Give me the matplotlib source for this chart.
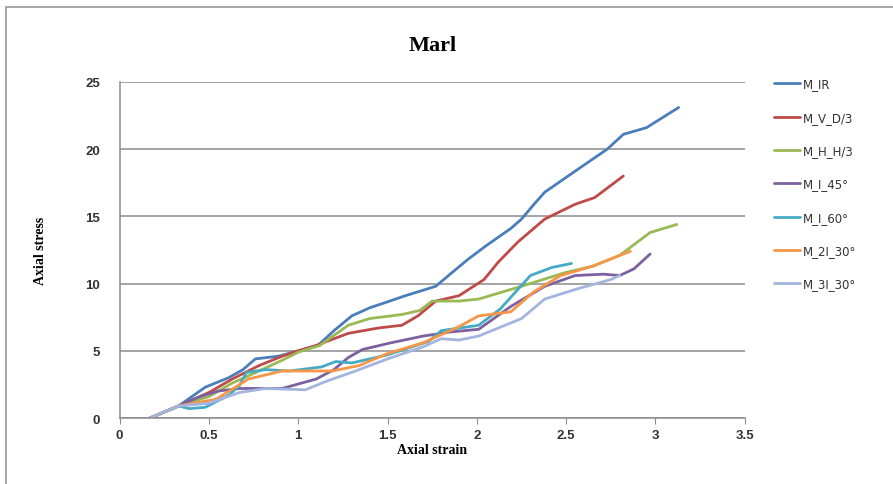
import numpy as np
import matplotlib.pyplot as plt
from matplotlib.patches import Rectangle

# series (axial strain, axial stress)
ir_x = [0.17, 0.33, 0.48, 0.61, 0.69, 0.76, 0.89, 1.0, 1.11, 1.2, 1.3, 1.4, 1.49, 1.6, 1.77, 1.85, 1.95, 2.05, 2.19, 2.25, 2.32, 2.38, 2.5, 2.62, 2.73, 2.82, 2.95, 3.13]
ir_y = [0.0, 0.9, 2.3, 3.0, 3.6, 4.4, 4.6, 5.0, 5.4, 6.5, 7.6, 8.2, 8.6, 9.1, 9.8, 10.7, 11.8, 12.8, 14.1, 14.8, 15.9, 16.8, 17.9, 19.0, 20.0, 21.1, 21.6, 23.1]

vd_x = [0.17, 0.33, 0.5, 0.63, 0.78, 0.91, 1.0, 1.1, 1.28, 1.45, 1.58, 1.67, 1.77, 1.9, 2.04, 2.12, 2.23, 2.38, 2.55, 2.66, 2.82]
vd_y = [0.0, 0.9, 1.9, 2.9, 3.9, 4.6, 5.0, 5.4, 6.3, 6.7, 6.9, 7.6, 8.7, 9.1, 10.3, 11.6, 13.1, 14.8, 15.9, 16.4, 18.0]

hh_x = [0.17, 0.33, 0.5, 0.63, 0.78, 0.91, 1.0, 1.12, 1.28, 1.4, 1.58, 1.68, 1.75, 1.9, 2.01, 2.25, 2.49, 2.65, 2.8, 2.97, 3.12]
hh_y = [0.0, 0.9, 1.6, 2.6, 3.5, 4.3, 4.9, 5.4, 6.9, 7.4, 7.7, 8.0, 8.7, 8.7, 8.85, 9.8, 10.8, 11.3, 12.1, 13.8, 14.4]

i45_x = [0.17, 0.33, 0.45, 0.55, 0.67, 0.8, 0.91, 1.1, 1.2, 1.28, 1.36, 1.52, 1.7, 1.85, 2.01, 2.19, 2.38, 2.55, 2.71, 2.8, 2.88, 2.97]
i45_y = [0.0, 0.9, 1.6, 2.0, 2.2, 2.2, 2.2, 2.9, 3.6, 4.5, 5.1, 5.6, 6.1, 6.4, 6.6, 8.3, 9.8, 10.6, 10.7, 10.6, 11.1, 12.2]

i60_x = [0.17, 0.33, 0.39, 0.48, 0.61, 0.67, 0.71, 0.82, 0.95, 1.13, 1.21, 1.3, 1.5, 1.73, 1.8, 2.01, 2.13, 2.3, 2.42, 2.53]
i60_y = [0.0, 0.9, 0.7, 0.8, 1.7, 2.4, 3.4, 3.6, 3.5, 3.8, 4.2, 4.1, 4.7, 5.7, 6.5, 6.9, 8.1, 10.6, 11.2, 11.5]

i2_x = [0.17, 0.33, 0.54, 0.72, 0.91, 1.05, 1.19, 1.34, 1.5, 1.7, 1.9, 2.01, 2.19, 2.32, 2.47, 2.65, 2.8, 2.86]
i2_y = [0.0, 0.9, 1.4, 2.9, 3.5, 3.5, 3.5, 3.9, 4.8, 5.6, 6.8, 7.6, 7.9, 9.4, 10.6, 11.3, 12.1, 12.4]

i3_x = [0.17, 0.33, 0.5, 0.67, 0.82, 1.04, 1.15, 1.3, 1.5, 1.7, 1.8, 1.9, 2.01, 2.25, 2.38, 2.56, 2.75, 2.8]
i3_y = [0.0, 0.9, 1.1, 1.9, 2.2, 2.1, 2.7, 3.4, 4.4, 5.3, 5.9, 5.8, 6.1, 7.4, 8.85, 9.6, 10.3, 10.6]

labels = ['M_IR', 'M_V_D/3', 'M_H_H/3', 'M_I_45°', 'M_I_60°', 'M_2I_30°', 'M_3I_30°']
colors = ['#4A7EBB', '#BE4B48', '#98B954', '#7D60A0', '#46AAC5', '#F79646', '#A3B5DF']
xs = [ir_x, vd_x, hh_x, i45_x, i60_x, i2_x, i3_x]
ys = [ir_y, vd_y, hh_y, i45_y, i60_y, i2_y, i3_y]

fig = plt.figure(figsize=(8.93, 4.85), dpi=100)
ax = fig.add_axes([0.134, 0.136, 0.700, 0.693])

for x, y, c, lab in zip(xs, ys, colors, labels):
    ax.plot(x, y, color=c, lw=2, label=lab, solid_joinstyle='round', solid_capstyle='round')

ax.set_xlim(0, 3.5)
ax.set_ylim(0, 25)
ax.set_xticks(np.arange(0, 3.51, 0.5))
ax.set_xticklabels(['0', '0.5', '1', '1.5', '2', '2.5', '3', '3.5'])
ax.set_yticks(range(0, 26, 5))
ax.yaxis.grid(True, color='#8C8C8C', lw=1.1)
ax.set_axisbelow(True)
for s in ['top', 'right']:
    ax.spines[s].set_visible(False)
for s in ['left', 'bottom']:
    ax.spines[s].set_color('#8C8C8C')
    ax.spines[s].set_linewidth(1.1)
ax.tick_params(axis='y', length=0, pad=14, labelsize=9.5, colors='#333333')
ax.tick_params(axis='x', length=4, direction='out', color='#8C8C8C', pad=4, labelsize=9.5, colors='#333333')
for t in ax.get_xticklabels() + ax.get_yticklabels():
    t.set_fontweight('bold')
    t.set_family('Liberation Sans')

ax.set_xlabel('Axial strain', family='Liberation Serif', fontweight='bold', fontsize=10, labelpad=1)
ax.set_ylabel('Axial stress', family='Liberation Serif', fontweight='bold', fontsize=10, labelpad=28)
fig.text(0.484, 0.905, 'Marl', family='Liberation Serif', fontweight='bold', fontsize=16, ha='center', va='center')

leg = fig.legend(loc='upper left', bbox_to_anchor=(0.855, 0.86), frameon=False, fontsize=8.5,
                 labelspacing=1.72, handlelength=2.2, handletextpad=0.25)
for t in leg.get_texts():
    t.set_color('#333333')

fig.add_artist(Rectangle((0.007, -0.02), 1.1, 1.003, transform=fig.transFigure,
                         fill=False, edgecolor='#9A9A9A', lw=1.2))

plt.savefig('out.png', dpi=100)
